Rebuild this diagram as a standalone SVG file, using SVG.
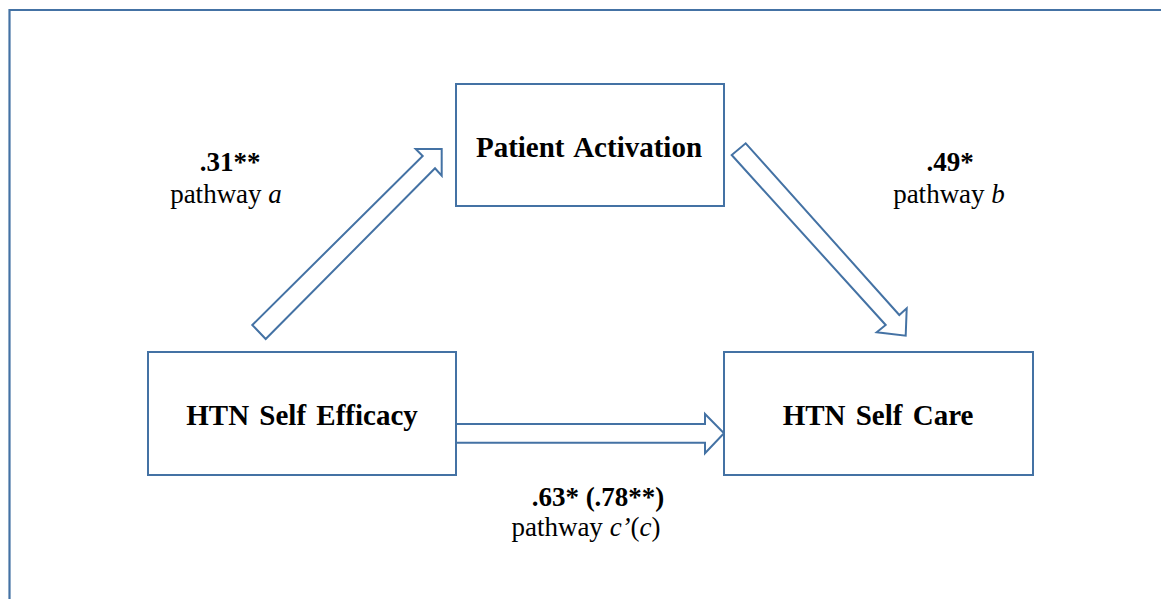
<svg xmlns="http://www.w3.org/2000/svg" width="1161" height="599" viewBox="0 0 1161 599">
<style>
.box{fill:#fff;stroke:#4472A4;stroke-width:2}
.arr{fill:#fff;stroke:#4472A4;stroke-width:2;stroke-linejoin:miter}
.nt{font-family:"Liberation Serif","Times New Roman",serif;font-weight:bold;font-size:29px;fill:#000;text-anchor:middle;word-spacing:3px}
.bl{font-family:"Liberation Serif","Times New Roman",serif;font-weight:bold;font-size:27px;fill:#000;text-anchor:middle}
.pl{font-family:"Liberation Serif","Times New Roman",serif;font-size:27px;fill:#000;text-anchor:middle}
.it{font-style:italic}
</style>
<rect width="1161" height="599" fill="#fff"/>
<path d="M9.5,599 V10 H1161" fill="none" stroke="#4472A4" stroke-width="2.2"/>
<g id="connectors">
<polygon class="arr" points="252.3,325 422.7,156 415.7,149 441.7,149 441.7,175.7 435,168.3 265.7,339"/>
<polygon class="arr" points="745.7,143.3 899.3,315 906.7,308.3 905.7,335.7 876.7,332.3 885.7,325 731.7,155"/>
<polygon class="arr" points="456,424 705,424 705,414 724,433.3 705,453.3 705,442.7 456,442.7"/>
</g>
<g id="patient-activation">
<rect class="box" x="456" y="84" width="268" height="122"/>
<text class="nt" x="589" y="156.5">Patient Activation</text>
</g>
<g id="htn-self-efficacy">
<rect class="box" x="148" y="352" width="308" height="123"/>
<text class="nt" x="302" y="425">HTN Self Efficacy</text>
</g>
<g id="htn-self-care">
<rect class="box" x="724" y="352" width="309" height="123"/>
<text class="nt" x="878" y="425">HTN Self Care</text>
</g>
<g id="label-a">
<text class="bl" x="230" y="170.5">.31**</text>
<text class="pl" x="226" y="203">pathway <tspan class="it">a</tspan></text>
</g>
<g id="label-b">
<text class="bl" x="950" y="170.5">.49*</text>
<text class="pl" x="949" y="203">pathway <tspan class="it">b</tspan></text>
</g>
<g id="label-c">
<text class="bl" x="598" y="506">.63* (.78**)</text>
<text class="pl" x="586" y="536">pathway <tspan class="it">c’</tspan>(<tspan class="it">c</tspan>)</text>
</g>
</svg>
